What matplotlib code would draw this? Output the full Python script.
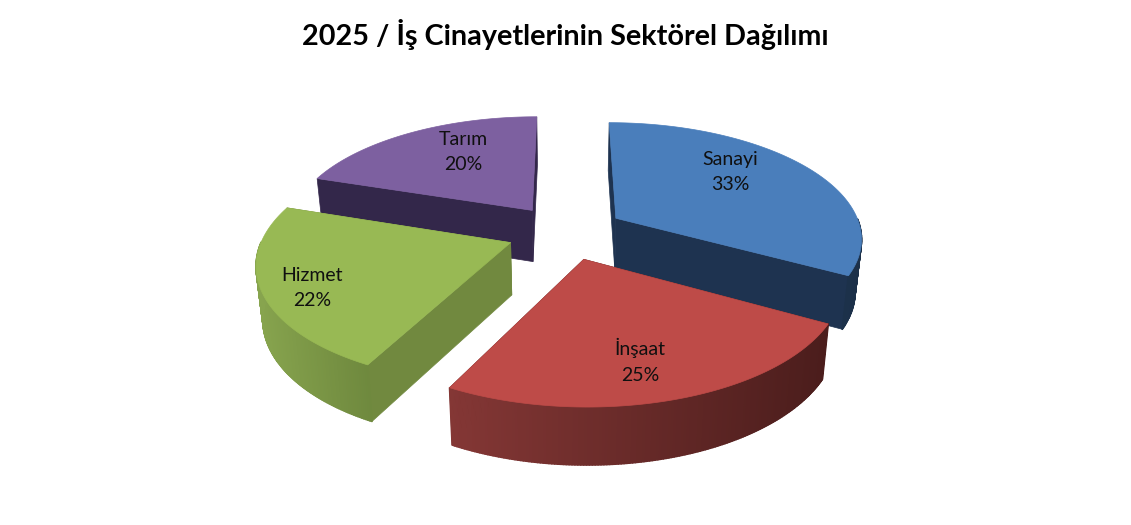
import numpy as np
import matplotlib
matplotlib.use('Agg')
import matplotlib.pyplot as plt
from matplotlib.collections import PolyCollection
from matplotlib.colors import to_rgb

title = '2025 / İş Cinayetlerinin Sektörel Dağılımı'
sectors = ['Sanayi', 'İnşaat', 'Hizmet', 'Tarım']
# labels show these rounded
shares = [33.0, 24.6, 22.4, 20.0]

top_colors = ['#4a7ebb', '#be4b48', '#98b954', '#7d60a0']
face_colors = ['#1e3350', '#4f1f1e', '#71893f', '#33274a']
wall_left = ['#24405f', '#843735', '#87a44e', '#33274a']
wall_right = ['#1c3049', '#4b1d1c', '#6f893e', '#33274a']

# where the labels sit, in pixels
label_pos = [(730, 172), (640, 361), (312, 288), (463, 152)]

# projection of the tilted pie
cx, cy = 566, 232
rx, ry = 246, 114.7
persp = 0.158
depth = 52
shrink = 0.022
explode = 0.24


def project(x, y, z):
    s = 1 / (1 + persp * y)
    return np.column_stack([cx + rx * x * s * (1 - shrink * z),
                            cy - ry * y * s + depth * z * np.sqrt(s)])


def mix(c1, c2, t):
    a, b = np.array(to_rgb(c1)), np.array(to_rgb(c2))
    return a + (b - a) * t


fig = plt.figure(figsize=(11.31, 5.25), dpi=100)
ax = fig.add_axes([0, 0, 1, 1])
ax.set_xlim(0, 1131)
ax.set_ylim(525, 0)
ax.axis('off')

edges = np.cumsum([0] + shares) / sum(shares) * 2 * np.pi
# back slices first so the front ones cover them
order = [3, 0, 2, 1]

for i in order:
    a0, a1 = edges[i], edges[i + 1]
    mid = (a0 + a1) / 2
    ox, oy = explode * np.sin(mid), explode * np.cos(mid)
    t = np.linspace(a0, a1, 160)
    arc_x = ox + np.sin(t)
    arc_y = oy + np.cos(t)
    tp = project(arc_x, arc_y, 0)
    bt = project(arc_x, arc_y, 1)

    # the two cut faces
    for a in (a0, a1):
        ex, ey = ox + np.sin(a), oy + np.cos(a)
        p = np.vstack([project(ox, oy, 0), project(ex, ey, 0),
                       project(ex, ey, 1), project(ox, oy, 1)])
        ax.fill(p[:, 0], p[:, 1], color=face_colors[i], lw=0.5)

    # outer wall, shaded strip by strip, front half only
    lo, hi = tp[:, 0].min(), tp[:, 0].max()
    polys, cols = [], []
    for k in range(len(t) - 1):
        if np.cos(t[k]) < 0:
            polys.append([tp[k], tp[k + 1], bt[k + 1], bt[k]])
            cols.append(mix(wall_left[i], wall_right[i], (tp[k, 0] - lo) / (hi - lo)))
    if polys:
        ax.add_collection(PolyCollection(polys, facecolors=cols, edgecolors=cols, linewidths=1.2))

    # top surface
    top = np.vstack([project(ox, oy, 0), tp])
    ax.fill(top[:, 0], top[:, 1], color=top_colors[i], lw=0.5)

for name, val, (lx, ly) in zip(sectors, shares, label_pos):
    ax.text(lx, ly, '%s\n%d%%' % (name, round(val)), ha='center', va='center',
            fontsize=14, family='Lato', color='#101010', linespacing=1.62)

ax.text(565, 35, title, ha='center', va='center', fontsize=20.7,
        family='Lato', fontweight='bold', color='black')

fig.savefig('out.png', dpi=100, facecolor='white')
